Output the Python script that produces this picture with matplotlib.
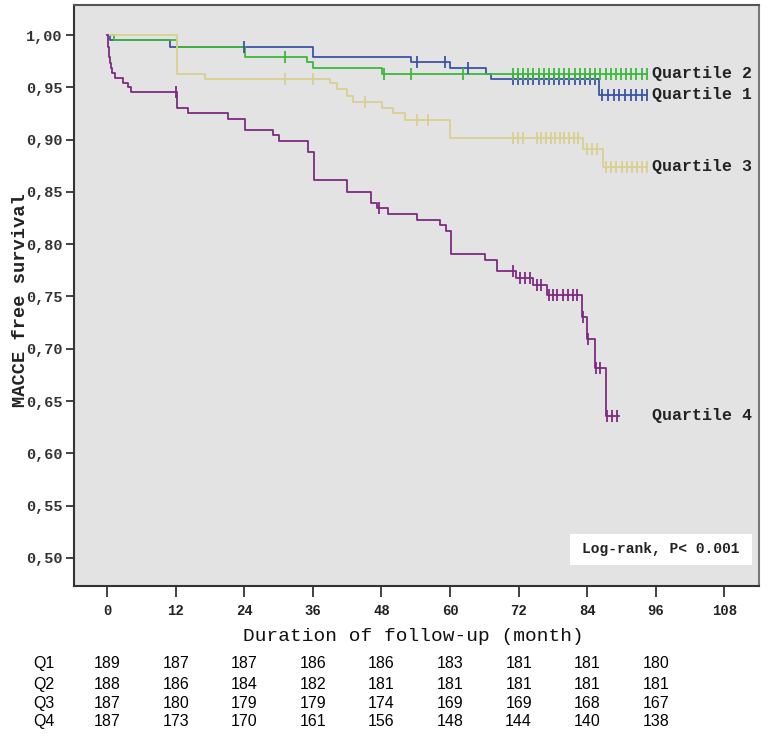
import numpy as np
import matplotlib
matplotlib.use("Agg")
import matplotlib.pyplot as plt
from matplotlib import transforms
from matplotlib.ticker import FuncFormatter
from matplotlib.patches import Rectangle

# ---------------- data ----------------
series_names = ["Quartile 1", "Quartile 2", "Quartile 3", "Quartile 4"]

q1_times = [0, 0.5, 11.0, 36.0, 53.1, 60.0, 66.3, 67.1, 86.0]
q1_surv = [1.0, 0.995, 0.989, 0.979, 0.974, 0.968, 0.963, 0.958, 0.943]
q1_end = 94.4
q1_cens = [24.0, 54.2, 59.1, 63.1, 71.0, 71.9, 72.8, 73.7, 74.6, 75.5, 76.4, 77.3,
           78.2, 79.1, 80.0, 80.9, 81.8, 82.7, 83.6, 84.5, 85.4, 86.6, 87.6, 88.6,
           89.6, 90.6, 91.6, 92.6, 93.6, 94.4]

q2_times = [0, 1.2, 12.2, 24.1, 35.0, 36.0, 48.1]
q2_surv = [1.0, 0.995, 0.989, 0.979, 0.974, 0.968, 0.963]
q2_end = 94.4
q2_cens = [31.1, 48.5, 53.1, 62.2, 71.0, 71.9, 72.8, 73.7, 74.6, 75.5, 76.4, 77.3,
           78.2, 79.1, 80.0, 80.9, 81.8, 82.7, 83.6, 84.5, 85.4, 86.3, 87.2, 88.1,
           89.0, 89.9, 90.8, 91.7, 92.6, 93.5, 94.4]

q3_times = [0, 12.2, 17.2, 39.0, 40.3, 42.0, 43.0, 48.1, 50.0, 52.1, 60.0, 83.2, 86.7]
q3_surv = [1.0, 0.963, 0.958, 0.954, 0.948, 0.942, 0.936, 0.930, 0.925, 0.919,
           0.902, 0.891, 0.874]
q3_end = 94.4
q3_cens = [31.1, 36.0, 45.1, 54.2, 56.1, 71.0, 71.9, 72.7, 75.2, 76.0, 76.8, 77.6,
           78.4, 79.2, 80.0, 80.8, 81.6, 82.4, 83.9, 84.8, 85.7, 87.3, 88.2, 89.1,
           90.0, 90.9, 91.8, 92.7, 93.6, 94.4]

q4_times = [0, 0.1, 0.2, 0.3, 0.4, 0.5, 0.7, 0.9, 1.4, 2.8, 3.7, 4.2, 12.2, 14.2,
            21.2, 24.1, 29.0, 30.1, 35.1, 36.2, 42.0, 46.1, 47.2, 49.1, 54.2, 58.2,
            59.3, 60.1, 66.1, 68.2, 71.5, 74.5, 76.9, 83.0, 83.9, 85.3, 87.2]
q4_surv = [1.0, 0.995, 0.989, 0.984, 0.979, 0.973, 0.968, 0.964, 0.959, 0.954,
           0.950, 0.946, 0.930, 0.925, 0.920, 0.909, 0.904, 0.899, 0.888, 0.861,
           0.850, 0.839, 0.835, 0.829, 0.823, 0.818, 0.813, 0.791, 0.785, 0.774,
           0.768, 0.761, 0.751, 0.730, 0.709, 0.682, 0.636]
q4_end = 89.5
q4_cens = [12.0, 47.6, 71.0, 72.2, 73.1, 74.0, 75.2, 76.0, 77.3, 78.0, 78.8, 79.7,
           80.6, 81.5, 82.2, 83.2, 84.2, 85.6, 86.3, 87.4, 88.3, 89.2]

risk_times = [0, 12, 24, 36, 48, 60, 72, 84, 96]
risk_labels = ["Q1", "Q2", "Q3", "Q4"]
risk_q1 = [189, 187, 187, 186, 186, 183, 181, 181, 180]
risk_q2 = [188, 186, 184, 182, 181, 181, 181, 181, 181]
risk_q3 = [187, 180, 179, 179, 174, 169, 169, 168, 167]
risk_q4 = [187, 173, 170, 161, 156, 148, 144, 140, 138]

x_ticks = [0, 12, 24, 36, 48, 60, 72, 84, 96, 108]
y_ticks = [0.50, 0.55, 0.60, 0.65, 0.70, 0.75, 0.80, 0.85, 0.90, 0.95, 1.00]

colors = ["#3b53a6", "#3cb83c", "#d9d08f", "#7d2b80"]

# ---------------- figure ----------------
MONO = ["Liberation Mono", "DejaVu Sans Mono"]
fig = plt.figure(figsize=(7.71, 7.37), dpi=100)
ax = fig.add_axes([0.096, 0.2049, 0.888, 0.7883])
ax.set_facecolor("#e3e3e3")
ax.set_xlim(-5.8, 114.0)
ax.set_ylim(0.4732, 1.0287)

series = [
    (q1_times, q1_surv, q1_end, q1_cens),
    (q2_times, q2_surv, q2_end, q2_cens),
    (q3_times, q3_surv, q3_end, q3_cens),
    (q4_times, q4_surv, q4_end, q4_cens),
]

for (t, s, end, cens), col, name in zip(series, colors, series_names):
    tt = list(t) + [end]
    ss = list(s) + [s[-1]]
    ax.step(tt, ss, where="post", color=col, lw=1.3, zorder=3)
    ct = np.array(cens)
    idx = np.searchsorted(np.array(t), ct, side="right") - 1
    cy = np.array(s)[idx]
    ax.plot(ct, cy, linestyle="none", marker="|", markersize=8, mew=1.3,
            color=col, zorder=4)
    ax.text(95.4, s[-1], name, fontsize=12, fontweight="bold", family=MONO,
            ha="left", va="center", color="#222222", zorder=5)

# ticks
ax.set_xticks(x_ticks)
ax.set_yticks(y_ticks)
ax.yaxis.set_major_formatter(FuncFormatter(lambda v, p: f"{v:.2f}".replace(".", ",")))
ax.tick_params(axis="y", length=6, width=1.3, pad=2, color="#333333",
               labelsize=11, labelcolor="#333333")
ax.tick_params(axis="x", length=8, width=1.3, pad=5, color="#333333",
               labelsize=10, labelcolor="#222222")
for lab in ax.get_yticklabels() + ax.get_xticklabels():
    lab.set_family(MONO)
    lab.set_fontweight("bold")

for side in ["left", "bottom", "top", "right"]:
    ax.spines[side].set_linewidth(1.5)
    ax.spines[side].set_color("#333333")
ax.spines["top"].set_color("#555555")
ax.spines["right"].set_color("#777777")

ax.set_xlabel("Duration of follow-up (month)", fontsize=14, family=MONO,
              color="#111111")
ax.xaxis.set_label_coords(0.496, -0.072)
ax.set_ylabel("MACCE free survival", fontsize=13.5, family=MONO,
              fontweight="bold", color="#222222")
ax.yaxis.label.set_va("center")
ax.yaxis.label.set_ha("center")
ax.yaxis.set_label_coords(-0.078, 0.492)

# log-rank box
ax.add_patch(Rectangle((0.724, 0.036), 0.266, 0.0535, transform=ax.transAxes,
                       facecolor="white", edgecolor="none", zorder=5))
ax.text(0.857, 0.063, "Log-rank, P< 0.001", transform=ax.transAxes, ha="center",
        va="center", fontsize=10.5, family=MONO, fontweight="bold",
        color="#222222", zorder=6)

# risk table
tr = transforms.blended_transform_factory(ax.transData, fig.transFigure)
row_y = [0.1004, 0.0719, 0.0461, 0.0217]
SANS = ["Liberation Sans", "DejaVu Sans"]
for lab, vals, yy in zip(risk_labels, [risk_q1, risk_q2, risk_q3, risk_q4], row_y):
    fig.text(0.057, yy, lab, ha="center", va="center", fontsize=11.5, family=SANS,
             color="#000000")
    for xt, v in zip(risk_times, vals):
        ax.text(xt, yy, str(v), transform=tr, ha="center", va="center",
                fontsize=11.5, family=SANS, color="#000000", clip_on=False)

fig.savefig("out.png", dpi=100)
